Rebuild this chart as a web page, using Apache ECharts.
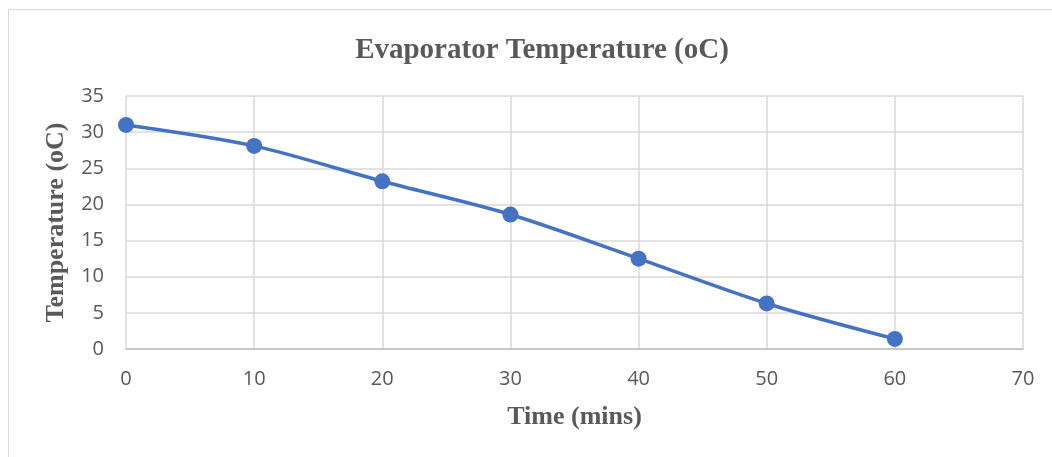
<!DOCTYPE html>
<html>
<head>
<meta charset="utf-8">
<script src="https://cdn.jsdelivr.net/npm/echarts@6/dist/echarts.min.js"></script>
<style>
  html, body { margin: 0; padding: 0; background: #fff; }
  #main { width: 1052px; height: 457px; }
</style>
</head>
<body>
<div id="main"></div>
<script>
// values
var timeMins = [0, 10, 20, 30, 40, 50, 60];
var tempC = [31, 28.1, 23.2, 18.6, 12.5, 6.3, 1.4];

var points = timeMins.map(function (t, i) { return [t, tempC[i]]; });

var chart = echarts.init(document.getElementById('main'));
var grey = '#595959';
var gridCol = '#d9d9d9';

chart.setOption({
  animation: false,
  backgroundColor: '#fff',
  title: {
    text: 'Evaporator Temperature (oC)',
    left: 537,
    textAlign: 'center',
    top: 31,
    textStyle: { fontFamily: 'Liberation Serif', fontWeight: 'bold', fontSize: 29, color: grey }
  },
  graphic: [{
    type: 'rect',
    shape: { x: 8.5, y: 9.5, width: 1200, height: 600 },
    style: { fill: 'none', stroke: gridCol, lineWidth: 1 },
    silent: true
  }],
  grid: { left: 126, right: 29, top: 96, bottom: 108 },
  xAxis: {
    type: 'value',
    min: 0, max: 70, interval: 10,
    name: 'Time (mins)',
    nameLocation: 'middle',
    nameGap: 55,
    nameTextStyle: { fontFamily: 'Liberation Serif', fontWeight: 'bold', fontSize: 26, color: grey },
    axisLine: { show: true, lineStyle: { color: '#bfbfbf', width: 1.5 } },
    axisTick: { show: false },
    axisLabel: { color: grey, fontSize: 20, fontFamily: 'Open Sans', margin: 20 },
    splitLine: { show: true, lineStyle: { color: gridCol, width: 1.5 } }
  },
  yAxis: {
    type: 'value',
    min: 0, max: 35, interval: 5,
    name: 'Temperature (oC)',
    nameLocation: 'middle',
    nameGap: 57,
    nameTextStyle: { fontFamily: 'Liberation Serif', fontWeight: 'bold', fontSize: 26, color: grey },
    axisLine: { show: false },
    axisTick: { show: false },
    axisLabel: { color: grey, fontSize: 20, fontFamily: 'Open Sans', margin: 22 },
    splitLine: { show: true, lineStyle: { color: gridCol, width: 1.5 } }
  },
  series: [{
    type: 'line',
    data: points,
    smooth: 0.3,
    symbol: 'circle',
    symbolSize: 16,
    lineStyle: { color: '#4472C4', width: 3.5 },
    itemStyle: { color: '#4472C4' }
  }]
});
</script>
</body>
</html>
